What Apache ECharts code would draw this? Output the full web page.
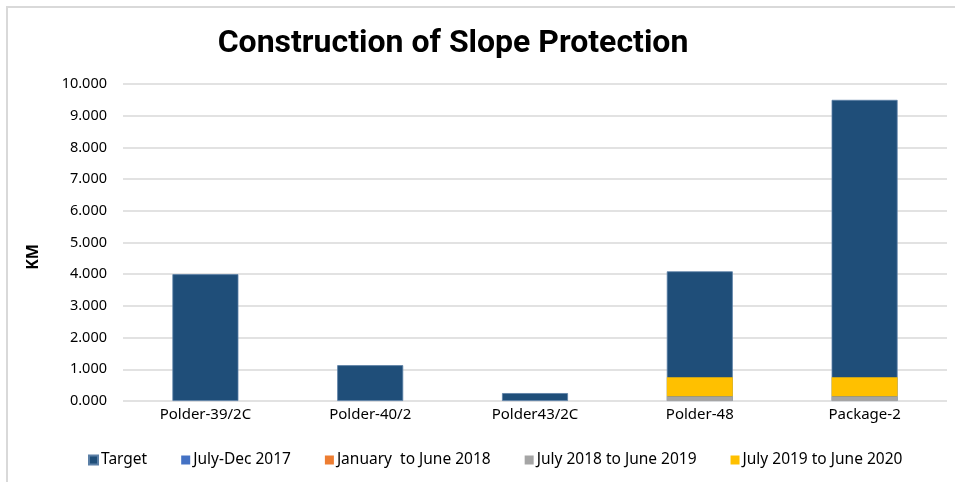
<!DOCTYPE html>
<html>
<head>
<meta charset="utf-8">
<script src="https://cdn.jsdelivr.net/npm/echarts@6/dist/echarts.min.js"></script>
<style>html,body{margin:0;padding:0;background:#fff}#c{width:955px;height:482px}</style>
</head>
<body>
<div id="c"></div>
<script>
const categories = ['Polder-39/2C', 'Polder-40/2', 'Polder43/2C', 'Polder-48', 'Package-2'];
const target = [4.00, 1.13, 0.25, 4.09, 9.50];
const julDec2017 = [0, 0, 0, 0, 0];
const janJun2018 = [0, 0, 0, 0, 0];
const jul2018Jun2019 = [0, 0, 0, 0.15, 0.15];
const jul2019Jun2020 = [0, 0, 0, 0.60, 0.60];
const yTicks = [0, 1, 2, 3, 4, 5, 6, 7, 8, 9, 10];

const FONT = 'Noto Sans';
const chart = echarts.init(document.getElementById('c'), null, {renderer: 'canvas'});
const prog = (name, data, color) => ({
  name, type: 'bar', stack: 'p', data, barWidth: 66,
  itemStyle: {color}
});
chart.setOption({
  animation: false,
  title: {
    text: 'Construction of Slope Protection', top: 23,
    left: 448, textAlign: 'center',
    textStyle: {fontFamily: 'Liberation Sans Narrow, Roboto', fontWeight: 'bold', fontSize: 32, color: '#000'}
  },
  graphic: [
    {type: 'rect', shape: {x: 7, y: 7, width: 970, height: 500}, style: {fill: 'none', stroke: '#d9d9d9', lineWidth: 2}, silent: true},
    {type: 'text', x: 33, y: 257, rotation: Math.PI / 2,
     style: {text: 'KM', fontFamily: FONT, fontWeight: 'bold', fontSize: 16, fill: '#000', align: 'center', verticalAlign: 'middle'}}
  ],
  legend: {
    bottom: 9, left: 83, itemWidth: 9, itemHeight: 9, itemGap: 34, icon: 'rect',
    textStyle: {fontFamily: FONT, fontSize: 15.5, color: '#000', padding: [0, 0, 0, -2]},
    data: ['Target', 'July-Dec 2017', 'January  to June 2018', 'July 2018 to June 2019', 'July 2019 to June 2020']
  },
  grid: {left: 123, right: 8, top: 84, bottom: 81, containLabel: false},
  xAxis: {
    type: 'category', data: categories,
    axisLine: {show: false}, axisTick: {show: false},
    axisLabel: {fontFamily: FONT, fontSize: 15, color: '#000', margin: 6}
  },
  yAxis: {
    type: 'value', min: yTicks[0], max: yTicks[yTicks.length - 1], interval: 1,
    axisLine: {show: false}, axisTick: {show: false},
    axisLabel: {fontFamily: FONT, fontSize: 14.5, color: '#000', margin: 16, formatter: v => v.toFixed(3)},
    splitLine: {lineStyle: {color: '#d9d9d9', width: 1.5}}
  },
  series: [
    {name: 'Target', type: 'bar', data: target, barWidth: 66, barGap: '-100%',
     itemStyle: {color: '#1F4E79', borderColor: '#5b7fa6', borderWidth: 0.8}},
    prog('July-Dec 2017', julDec2017, '#4472C4'),
    prog('January  to June 2018', janJun2018, '#ED7D31'),
    prog('July 2018 to June 2019', jul2018Jun2019, '#A5A5A5'),
    prog('July 2019 to June 2020', jul2019Jun2020, '#FFC000')
  ]
});
</script>
</body>
</html>
